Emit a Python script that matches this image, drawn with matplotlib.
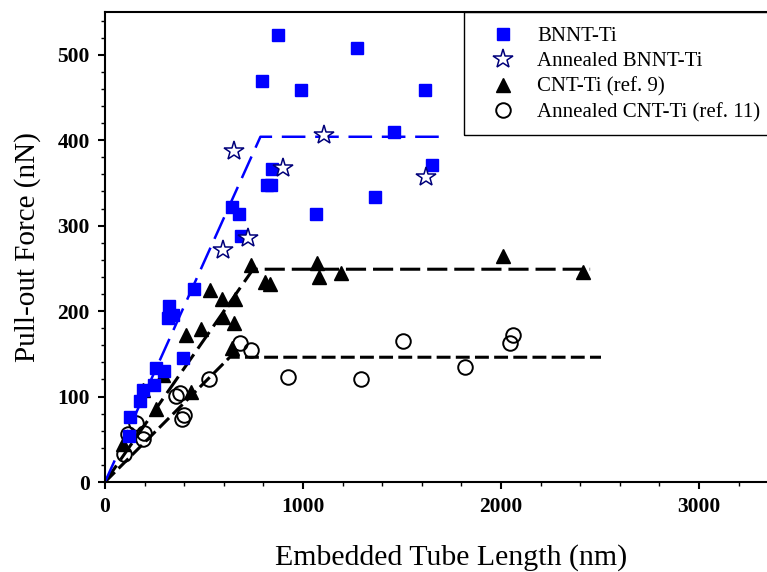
import matplotlib
matplotlib.use("Agg")
import matplotlib.pyplot as plt
from matplotlib.lines import Line2D
from matplotlib.patches import Rectangle
from matplotlib.ticker import MultipleLocator

plt.rcParams['font.family'] = ['Liberation Serif', 'DejaVu Serif']
plt.rcParams['lines.scale_dashes'] = False

# ---- data ----
bnnt_x = [872, 1271, 793, 990, 1614, 1461, 842, 1650, 820, 837, 1365, 640, 677, 1066, 689,
          451, 325, 345, 317, 392, 260, 300, 248, 194, 175, 125, 123]
bnnt_y = [523, 508, 469, 459, 459, 409, 366, 371, 348, 348, 334, 322, 314, 314, 288,
          226, 206, 196, 192, 145, 133, 130, 113, 108, 95, 76, 54]

abnnt_x = [598, 650, 721, 897, 1108, 1621]
abnnt_y = [272, 387, 285, 368, 406, 357]

cnt_x = [735, 1069, 1080, 1194, 807, 833, 530, 591, 657, 598, 652, 411, 484, 642,
         295, 190, 259, 432, 90, 2008, 2416]
cnt_y = [254, 256, 240, 244, 234, 232, 225, 214, 214, 193, 186, 172, 179, 157,
         125, 108, 85, 105, 44, 265, 246]

acnt_x = [683, 739, 1507, 1817, 926, 1291, 527, 377, 360, 397, 390, 2062, 2045,
          158, 118, 195, 192, 96]
acnt_y = [163, 155, 165, 134, 123, 121, 120, 104, 101, 78, 74, 172, 163,
          69, 56, 57, 50, 33]

fit_bnnt_x = [0, 785, 1730]
fit_bnnt_y = [0, 404, 404]
fit_cnt_x = [0, 748, 2450]
fit_cnt_y = [0, 249, 249]
fit_acnt_x = [0, 630, 2505]
fit_acnt_y = [0, 146, 146]

labels = ['BNNT-Ti', 'Annealed BNNT-Ti', 'CNT-Ti (ref. 9)', 'Annealed CNT-Ti (ref. 11)']
xticks = [0, 1000, 2000, 3000]
yticks = [0, 100, 200, 300, 400, 500]

W, H = 767, 572
fig = plt.figure(figsize=(W / 100, H / 100), dpi=100)
ax = fig.add_axes([105 / W, (H - 482) / H, 693 / W, 470 / H])
ax.set_xlim(0, 3500)
ax.set_ylim(0, 550)

blue = '#0000FF'
navy = '#00007A'

ax.plot(fit_acnt_x, fit_acnt_y, color='black', lw=2.2, dashes=(10, 3.8), zorder=2)
ax.plot(fit_cnt_x, fit_cnt_y, color='black', lw=2.2, dashes=(14.5, 5), zorder=2)
ax.plot(fit_bnnt_x, fit_bnnt_y, color=blue, lw=1.8, dashes=(17, 7), zorder=2)

ax.plot(acnt_x, acnt_y, 'o', ms=10.5, mfc='none', mec='black', mew=1.4, zorder=3)
ax.plot(cnt_x, cnt_y, '^', ms=10.5, color='black', zorder=3)
ax.plot(bnnt_x, bnnt_y, 's', ms=8, color=blue, zorder=3)
ax.plot(abnnt_x, abnnt_y, '*', ms=14.5, mfc='white', mec=navy, mew=1.1, zorder=4)

for s in ['top', 'bottom', 'left', 'right']:
    ax.spines[s].set_linewidth(1.5)

ax.xaxis.set_major_locator(MultipleLocator(1000))
ax.xaxis.set_minor_locator(MultipleLocator(200))
ax.yaxis.set_major_locator(MultipleLocator(100))
ax.yaxis.set_minor_locator(MultipleLocator(20))
ax.set_xticks(xticks)
ax.set_yticks(yticks)
ax.tick_params(which='major', direction='out', length=5, width=1.5, labelsize=15.5, pad=6)
ax.tick_params(which='minor', direction='out', length=3, width=1.0)
for lab in ax.get_xticklabels() + ax.get_yticklabels():
    lab.set_fontweight('bold')

ax.set_xlabel('Embedded Tube Length (nm)', fontsize=21.5, labelpad=19)
ax.set_ylabel('Pull-out Force (nN)', fontsize=21, labelpad=12)

# legend
handles = [
    Line2D([], [], ls='none', marker='s', ms=8, color=blue),
    Line2D([], [], ls='none', marker='*', ms=14.5, mfc='white', mec=navy, mew=1.1),
    Line2D([], [], ls='none', marker='^', ms=10.5, color='black'),
    Line2D([], [], ls='none', marker='o', ms=10.5, mfc='none', mec='black', mew=1.4),
]
fs = 15
fig.legend(handles, labels, loc='upper left', bbox_to_anchor=(492.5 / W, 1 - 26.5 / H),
           frameon=False, fontsize=fs, handlelength=1.0, handletextpad=1.13,
           labelspacing=0.28, borderpad=0, borderaxespad=0)
fig.patches.append(Rectangle((464 / W, 1 - 135 / H), 400 / W, 123 / H,
                             transform=fig.transFigure, fill=False, edgecolor='black',
                             lw=1.0, clip_on=False))

fig.savefig('out.png', dpi=100)
